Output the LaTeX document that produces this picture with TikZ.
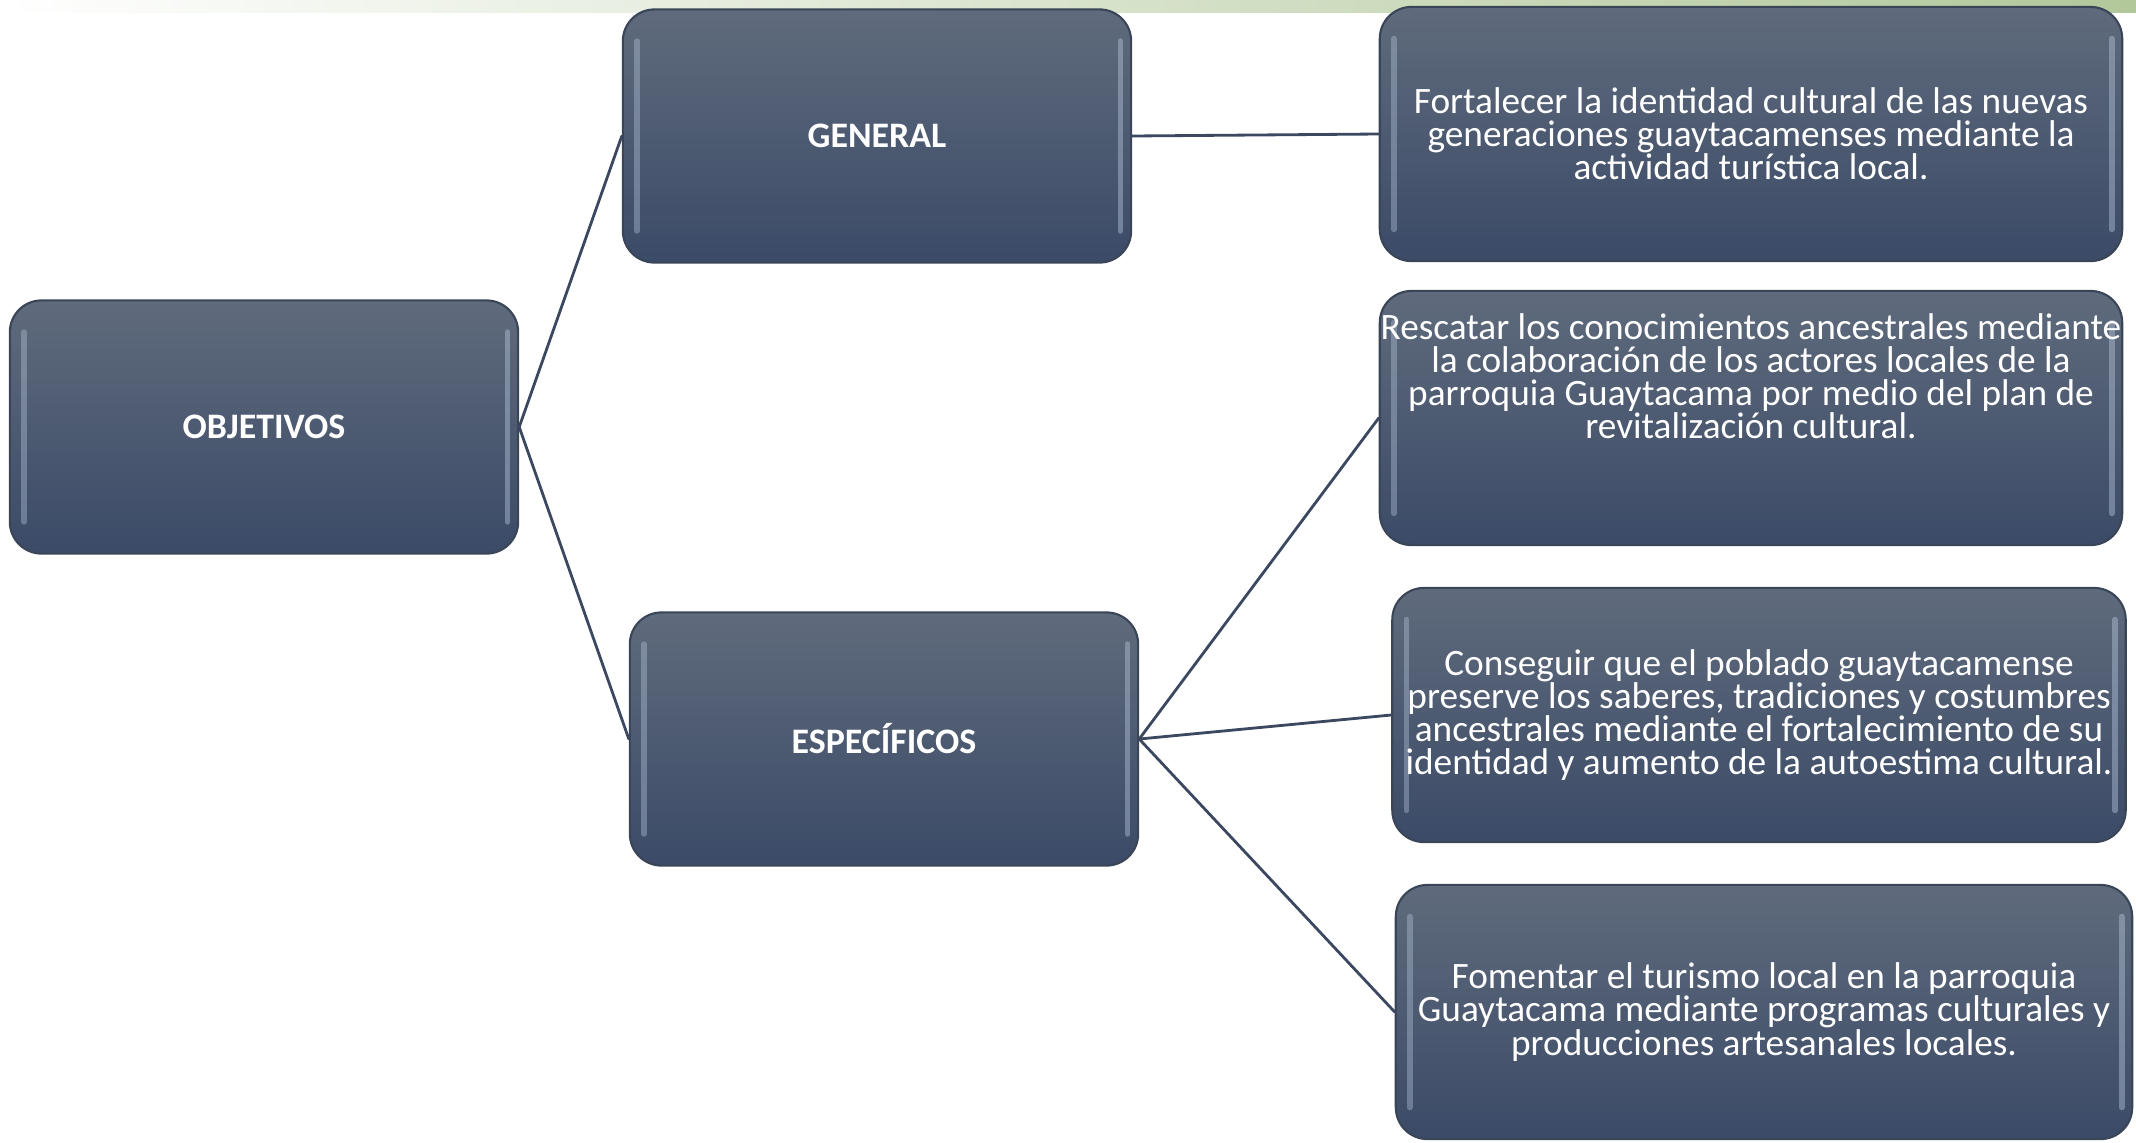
\documentclass[tikz,border=0pt]{standalone}
\usepackage{fontspec}
\setmainfont{Carlito}
\definecolor{boxtop}{HTML}{5F6B7C}
\definecolor{boxbot}{HTML}{3B4A67}
\definecolor{boxline}{HTML}{3A4658}
\definecolor{linkcol}{HTML}{3B4860}
\definecolor{glint}{HTML}{B4C3DA}
\definecolor{stripgreen}{HTML}{B2C79A}
\begin{document}
\begin{tikzpicture}[x=0.01cm,y=-0.01cm,line join=round,line cap=round]
	\tikzset{
		objbox/.style={draw=boxline,line width=0.6pt,rounded corners=9pt,top color=boxtop,bottom color=boxbot,
			text=white,align=center,inner sep=0pt,
			path picture={
				\draw[glint,line width=1.6pt,opacity=.4] ([xshift=4pt,yshift=-9pt]path picture bounding box.north west)--([xshift=4pt,yshift=9pt]path picture bounding box.south west);
				\draw[glint,line width=1.6pt,opacity=.45] ([xshift=-3pt,yshift=-9pt]path picture bounding box.north east)--([xshift=-3pt,yshift=9pt]path picture bounding box.south east);
			}},
		head/.style={objbox,font=\bfseries\fontsize{10.2}{12}\selectfont,minimum width=5.08cm,minimum height=2.53cm},
		aim/.style={objbox,font=\fontsize{10.6}{9.4}\selectfont,minimum height=2.54cm},
		aimtext/.style={text=white,align=center,font=\fontsize{10.6}{9.4}\selectfont,inner sep=0pt},
		link/.style={draw=linkcol,line width=0.8pt}
	}
	\useasboundingbox (0,0) rectangle (2136,1142);
	% strip at the top
	\shade[left color=white,right color=stripgreen] (0,0) rectangle (2136,12);
	\node[head] (obj) at (264,427) {OBJETIVOS};
	\node[head] (gen) at (877,136) {GENERAL};
	\node[head] (esp) at (884,739) {ESPECÍFICOS};
	\node[aim,minimum width=7.42cm] (rA) at (1751,134) {Fortalecer la identidad cultural de las nuevas\\generaciones guaytacamenses mediante la\\actividad turística local.};
	\node[aim,minimum width=7.42cm] (rB) at (1751,418) {};
	\node[aimtext] (rBtxt) at ([yshift=12pt]rB.center) {Rescatar los conocimientos ancestrales mediante\\la colaboración de los actores locales de la\\parroquia Guaytacama por medio del plan de\\revitalización cultural.};
	\node[aim,minimum width=7.33cm] (rC) at (1759,715) {Conseguir que el poblado guaytacamense\\preserve los saberes, tradiciones y costumbres\\ancestrales mediante el fortalecimiento de su\\identidad y aumento de la autoestima cultural.};
	\node[aim,minimum width=7.36cm] (rD) at (1764,1012) {Fomentar el turismo local en la parroquia\\Guaytacama mediante programas culturales y\\producciones artesanales locales.};
	\draw[link] (obj.east) -- (gen.west);
	\draw[link] (obj.east) -- (esp.west);
	\draw[link] (gen.east) -- (rA.west);
	\foreach \t in {rB,rC,rD}
	\draw[link] (esp.east) -- (\t.west);
\end{tikzpicture}
\end{document}
